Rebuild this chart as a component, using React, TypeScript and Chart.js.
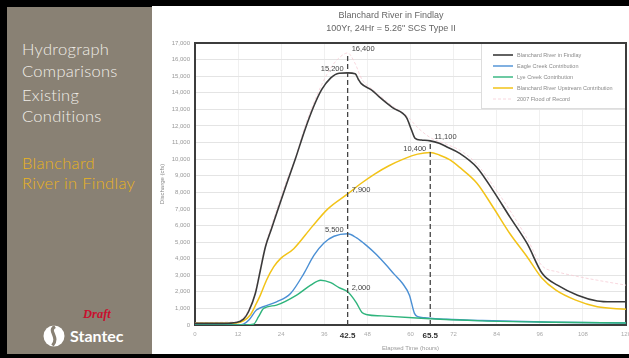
import React, { useEffect, useRef } from 'react';
import { Chart, registerables } from 'chart.js';

Chart.register(...registerables);

// ---------- data ----------
const seriesLabels = [
  'Blanchard River in Findlay',
  'Eagle Creek Contribution',
  'Lye Creek Contribution',
  'Blanchard River Upstream Contribution',
  '2007 Flood of Record',
];

const findlayHours = [0, 8, 11.5, 13.5, 14.9, 16.8, 18.2, 19.6, 21.3, 23.3, 25.5, 28, 30.5, 33.1, 35.3, 37.8, 40.1, 42.5, 44.6, 45.5, 46.3, 49.3, 51.3, 55, 58.9, 60.2, 61.3, 63, 65.5, 68, 70, 73.7, 78.5, 83, 87.7, 92.5, 96.7, 100.9, 106.5, 112, 116, 120];
const findlayFlow = [100, 100, 150, 350, 800, 1900, 3300, 4700, 5800, 7100, 8500, 10050, 11700, 13200, 14200, 14900, 15180, 15200, 15150, 14800, 14550, 14150, 13750, 13100, 12500, 11800, 11250, 11150, 11100, 10950, 10750, 10350, 9500, 8100, 6500, 4900, 3100, 2400, 1800, 1450, 1400, 1400];

const eagleHours = [0, 12, 13.5, 15, 17.1, 19, 22.7, 26.6, 30.3, 33.1, 35.9, 38.7, 42.5, 45, 47.7, 50.5, 53.3, 55.5, 57.8, 59.7, 61.1, 62, 64, 70, 80, 100, 120];
const eagleFlow = [0, 0, 50, 300, 900, 1100, 1400, 1900, 3100, 4200, 4950, 5350, 5500, 5250, 4800, 4250, 3600, 3050, 2500, 1800, 700, 500, 440, 350, 270, 170, 120];

const lyeHours = [0, 14, 16.3, 17.7, 19.1, 22.7, 28.3, 32.2, 35, 37.8, 40.1, 42.5, 44.9, 46.5, 48, 52, 61.7, 80, 100, 120];
const lyeFlow = [0, 0, 50, 500, 1000, 1200, 1800, 2400, 2700, 2550, 2250, 2000, 1350, 750, 620, 550, 420, 250, 170, 120];

const upstreamHours = [0, 8, 11.5, 13.5, 15.4, 17.1, 18.2, 19.9, 21.9, 23.8, 27.5, 32.5, 37, 42.5, 46, 50, 54, 58, 62, 65.5, 68, 71, 73.7, 78.5, 83, 87.7, 92.5, 96.5, 100.5, 106, 112, 120];
const upstreamFlow = [100, 100, 120, 250, 600, 1300, 1800, 2700, 3500, 4000, 4600, 5900, 7000, 7900, 8500, 9100, 9600, 10000, 10300, 10400, 10250, 9950, 9500, 8550, 7100, 5500, 4100, 2850, 2100, 1500, 1100, 950];

const recordHours = [0, 11.5, 13.5, 14.9, 16.8, 18.2, 19.6, 21.3, 23.3, 25.5, 28, 30.5, 33.1, 35.3, 37.8, 40.1, 42.5, 44.5, 46.5, 50, 55, 59, 62, 65.5, 70, 74, 78.5, 83, 87.7, 92.5, 96.5, 101, 106, 112, 120];
const recordFlow = [150, 200, 450, 900, 2000, 3400, 4800, 6000, 7300, 8700, 10100, 11900, 13400, 14500, 15500, 16100, 16400, 15800, 14800, 14100, 13200, 12600, 11900, 11300, 10900, 10500, 9700, 8400, 6900, 5200, 3600, 3200, 2950, 2700, 2400];

const xTickValues = [0, 12, 24, 36, 42.5, 48, 60, 65.5, 72, 84, 96, 108, 120];
const markerHours = [42.5, 65.5];
const markerTops = [16400, 11100];

const calloutHours = [42.5, 42.5, 65.5, 65.5, 42.5, 42.5, 42.5];
const calloutValues = [16400, 15200, 11100, 10400, 7900, 5500, 2000];
const calloutSides = ['right', 'left', 'right', 'left', 'right', 'left', 'right'];

const seriesColors = ['#3a3a3a', '#4a8fd4', '#2fb47c', '#f2c318', '#f6cdd5'];

const fmt = (v: number) => v.toLocaleString('en-US');
const toPoints = (xs: number[], ys: number[]) => xs.map((x, i) => ({ x, y: ys[i] }));

const decorPlugin = {
  id: 'decor',
  beforeDatasetsDraw(chart: any) {
    const { ctx, chartArea: a } = chart;
    ctx.save();
    // legend box
    const lw = 145;
    const lh = 66;
    const lx = a.right - lw;
    const ly = a.top;
    ctx.fillStyle = '#ffffff';
    ctx.fillRect(lx, ly, lw, lh);
    ctx.strokeStyle = '#dddddd';
    ctx.lineWidth = 1;
    ctx.strokeRect(lx + 0.5, ly + 0.5, lw - 1, lh - 1);
    ctx.font = '5.5px "Liberation Sans", Arial, sans-serif';
    ctx.textBaseline = 'middle';
    ctx.textAlign = 'left';
    chart.data.datasets.forEach((ds: any, i: number) => {
      const y = ly + 12 + i * 11;
      ctx.strokeStyle = ds.borderColor;
      ctx.lineWidth = ds.borderWidth;
      ctx.setLineDash(ds.borderDash || []);
      ctx.beginPath();
      ctx.moveTo(lx + 12, y);
      ctx.lineTo(lx + 32, y);
      ctx.stroke();
      ctx.setLineDash([]);
      ctx.fillStyle = '#8a8a8a';
      ctx.fillText(ds.label, lx + 36, y);
    });
    // plot frame
    ctx.strokeStyle = '#3c3c3c';
    ctx.lineWidth = 2;
    ctx.strokeRect(a.left, a.top, a.right - a.left, a.bottom - a.top);
    ctx.restore();
  },
  afterDatasetsDraw(chart: any) {
    const { ctx, chartArea: a, scales } = chart;
    const xs = scales.x;
    const ys = scales.y;
    ctx.save();
    ctx.strokeStyle = '#444444';
    ctx.lineWidth = 1.3;
    ctx.setLineDash([5, 3]);
    markerHours.forEach((h, i) => {
      const x = xs.getPixelForValue(h);
      ctx.beginPath();
      ctx.moveTo(x, a.bottom);
      ctx.lineTo(x, ys.getPixelForValue(markerTops[i]));
      ctx.stroke();
    });
    ctx.setLineDash([]);
    ctx.font = '7.5px "Liberation Sans", Arial, sans-serif';
    ctx.fillStyle = '#444444';
    ctx.textBaseline = 'middle';
    calloutValues.forEach((v, i) => {
      const x = xs.getPixelForValue(calloutHours[i]);
      const y = ys.getPixelForValue(v) - 4;
      const right = calloutSides[i] === 'right';
      ctx.textAlign = right ? 'left' : 'right';
      ctx.fillText(fmt(v), right ? x + 4 : x - 4, y);
    });
    ctx.restore();
  },
};

function HydroChart() {
  const ref = useRef<HTMLCanvasElement | null>(null);
  useEffect(() => {
    if (!ref.current) return;
    Chart.defaults.font.family = '"Liberation Sans", Arial, sans-serif';
    const isMarker = (v: any) => markerHours.includes(v);
    const sets = [
      [findlayHours, findlayFlow, 1.6, 0],
      [eagleHours, eagleFlow, 1.4, 2],
      [lyeHours, lyeFlow, 1.4, 1],
      [upstreamHours, upstreamFlow, 1.5, 3],
      [recordHours, recordFlow, 0.8, 4],
    ] as any[];
    const chart = new Chart(ref.current, {
      type: 'line',
      data: {
        datasets: sets.map((s, i) => ({
          label: seriesLabels[i],
          data: toPoints(s[0], s[1]),
          borderColor: seriesColors[i],
          backgroundColor: seriesColors[i],
          borderWidth: s[2],
          borderDash: i === 4 ? [3, 2] : [],
          pointRadius: 0,
          cubicInterpolationMode: 'monotone',
          fill: false,
          order: s[3],
        })),
      },
      options: {
        responsive: false,
        animation: false,
        events: [],
        layout: { padding: { left: 4, right: 3, top: 0, bottom: 2 } },
        plugins: {
          legend: { display: false },
          tooltip: { enabled: false },
          title: {
            display: true,
            text: 'Blanchard River in Findlay',
            color: '#666',
            font: { size: 9, weight: 'normal' },
            padding: { top: 4, bottom: 1 },
          },
          subtitle: {
            display: true,
            text: '100Yr, 24Hr = 5.26" SCS Type II',
            color: '#666',
            font: { size: 9, weight: 'normal' },
            padding: { top: 1, bottom: 9.4 },
          },
        },
        scales: {
          x: {
            type: 'linear',
            min: 0,
            max: 120,
            afterBuildTicks: (s: any) => {
              s.ticks = xTickValues.map((v) => ({ value: v }));
            },
            afterFit: (s: any) => {
              s.height = 27;
              s.paddingLeft = 0;
              s.paddingRight = 0;
            },
            grid: {
              color: (c: any) => (c.tick && isMarker(c.tick.value) ? 'rgba(0,0,0,0)' : '#f0f0f0'),
              drawTicks: false,
            },
            border: { display: false },
            ticks: {
              autoSkip: false,
              maxRotation: 0,
              padding: 6,
              color: (c: any) => (c.tick && isMarker(c.tick.value) ? '#333' : '#aaa'),
              font: (c: any) =>
                c.tick && isMarker(c.tick.value) ? { size: 8, weight: 'bold' } : { size: 6 },
              callback: (v: any) => String(v),
            },
            title: {
              display: true,
              text: 'Elapsed Time (hours)',
              color: '#999',
              font: { size: 6 },
              padding: { top: 3, bottom: 0 },
            },
          },
          y: {
            min: 0,
            max: 17000,
            afterFit: (s: any) => {
              s.width = 39;
              s.paddingTop = 0;
              s.paddingBottom = 0;
            },
            grid: { color: '#e4e4e4', drawTicks: false },
            border: { display: false },
            ticks: {
              stepSize: 1000,
              padding: 5,
              color: '#999',
              font: { size: 6 },
              callback: (v: any) => fmt(Number(v)),
            },
            title: {
              display: true,
              text: 'Discharge (cfs)',
              color: '#888',
              font: { size: 6 },
              padding: { top: 3, bottom: 0 },
            },
          },
        },
      } as any,
      plugins: [decorPlugin],
    });
    return () => chart.destroy();
  }, []);
  return <canvas ref={ref} width={477} height={348} style={{ display: 'block' }} />;
}

const panelLine = (text: string, top: number, color: string) => (
  <div
    style={{
      position: 'absolute',
      left: 22,
      top,
      fontFamily: 'Lato, "Open Sans", sans-serif',
      fontWeight: 300,
      fontSize: 16.5,
      lineHeight: '20px',
      letterSpacing: 0.3,
      color,
      whiteSpace: 'nowrap',
    }}
  >
    {text}
  </div>
);

export default function App() {
  return (
    <div
      style={{
        position: 'fixed',
        left: 0,
        top: 0,
        width: 629,
        height: 358,
        background: '#000',
        overflow: 'hidden',
      }}
    >
      <div style={{ position: 'absolute', left: 7, top: 7, width: 145, height: 347, background: '#898174' }} />
      {panelLine('Hydrograph', 38.5, '#f1eee8')}
      {panelLine('Comparisons', 60.5, '#f1eee8')}
      {panelLine('Existing', 84.5, '#f1eee8')}
      {panelLine('Conditions', 105.5, '#f1eee8')}
      {panelLine('Blanchard', 152.5, '#e9b31c')}
      {panelLine('River in Findlay', 172.5, '#e9b31c')}
      <div
        style={{
          position: 'absolute',
          left: 83,
          top: 308,
          fontFamily: '"Liberation Serif", serif',
          fontStyle: 'italic',
          fontWeight: 'bold',
          fontSize: 12.5,
          lineHeight: '12px',
          color: '#c8102e',
        }}
      >
        Draft
      </div>
      <svg style={{ position: 'absolute', left: 43, top: 325 }} width={22} height={22} viewBox="0 0 22 22">
        <circle cx={11} cy={11} r={10.5} fill="#ffffff" />
        <path d="M12 1.5 C 4 6, 17 12, 9.5 20.5" stroke="#898174" strokeWidth={3.2} fill="none" />
      </svg>
      <div
        style={{
          position: 'absolute',
          left: 70,
          top: 328,
          fontFamily: 'Lato, "Open Sans", sans-serif',
          fontWeight: 'bold',
          fontSize: 16,
          lineHeight: '16px',
          color: '#ffffff',
        }}
      >
        Stantec
      </div>
      <div style={{ position: 'absolute', left: 152, top: 6, width: 477, height: 348, background: '#fff' }}>
        <HydroChart />
      </div>
    </div>
  );
}
